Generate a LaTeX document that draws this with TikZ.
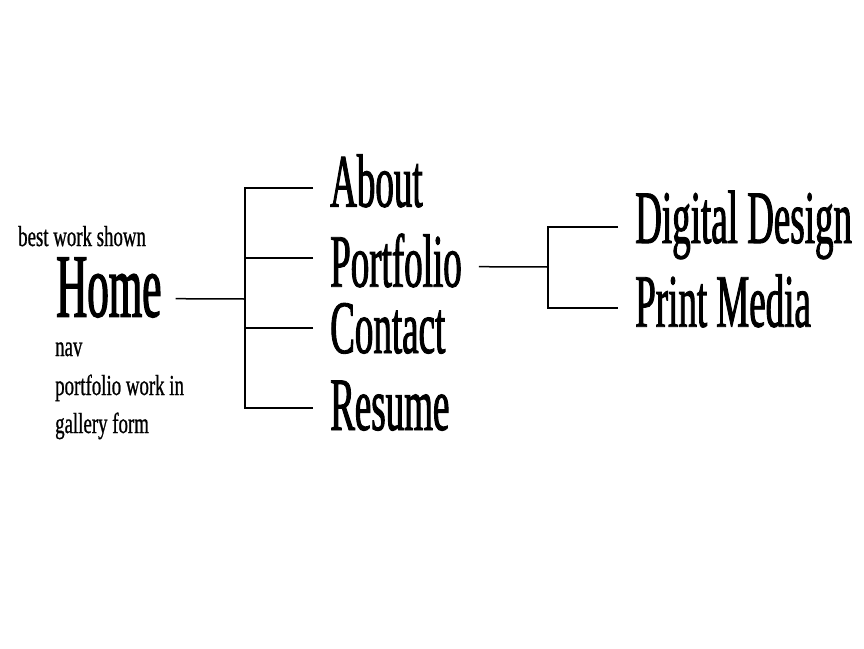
\documentclass[tikz,border=0pt]{standalone}
\usepackage{fontspec}
\usetikzlibrary{positioning}
\newfontfamily\pagefont{Liberation Serif}[FakeStretch=0.49, FakeBold=1.2]
\newfontfamily\homefont{Liberation Serif}[FakeStretch=0.475, FakeBold=1.4]
\newfontfamily\notefont{Liberation Serif}[FakeStretch=0.65, FakeBold=0.8]
\tikzstyle{page}=[anchor=base west, inner xsep=17pt, inner ysep=0pt, text height=42pt, text depth=0pt, font=\pagefont\fontsize{75.5}{80}\selectfont]
\tikzstyle{homepage}=[page, inner xsep=14pt, font=\homefont\fontsize{90.6}{96}\selectfont]
\tikzstyle{note}=[anchor=base west, inner sep=0pt, font=\notefont\fontsize{29}{34}\selectfont]
\tikzstyle{link}=[line width=1.5pt]

\begin{document}
\begin{tikzpicture}[x=1pt, y=-1pt]
    \useasboundingbox (0,0) rectangle (864,648);

    % Pages
    \node[homepage] (home) at (42, 316.7) {Home};
    \node[page] (about) at (313, 206.7) {About};
    \node[page] (portfolio) at (313, 286.7) {Portfolio};
    \node[page] (contact) at (313, 353) {Contact};
    \node[page] (resume) at (313, 430) {Resume};
    \node[page] (digital) at (618, 243) {Digital Design};
    \node[page] (print) at (618, 326.7) {Print Media};

    % Notes
    \node[note] (best) at (18, 246) {best work shown};
    \node[note] (nav) at (55, 356) {nav};
    \node[note] (gallery1) at (55, 395) {portfolio work in};
    \node[note] (gallery2) at (55, 433) {gallery form};

    % Junctions
    \coordinate (hubHome) at (245, 299);
    \coordinate (hubPortfolio) at (548, 267);

    % Links
    \draw[link] ([yshift=-3pt]home.east) -- (hubHome);
    \draw[link] ([yshift=-2.3pt]about.west) -| ([yshift=1pt]resume.west -| hubHome) -- ([yshift=1pt]resume.west);
    \draw[link] ([yshift=7.7pt]portfolio.west) -- ([yshift=7.7pt]portfolio.west -| hubHome);
    \draw[link] ([yshift=4pt]contact.west) -- ([yshift=4pt]contact.west -| hubHome);
    \draw[link] ([yshift=-1pt]portfolio.east) -- (hubPortfolio);
    \draw[link] ([yshift=-5pt]digital.west) -| ([yshift=-2.3pt]print.west -| hubPortfolio) -- ([yshift=-2.3pt]print.west);

\end{tikzpicture}
\end{document}
